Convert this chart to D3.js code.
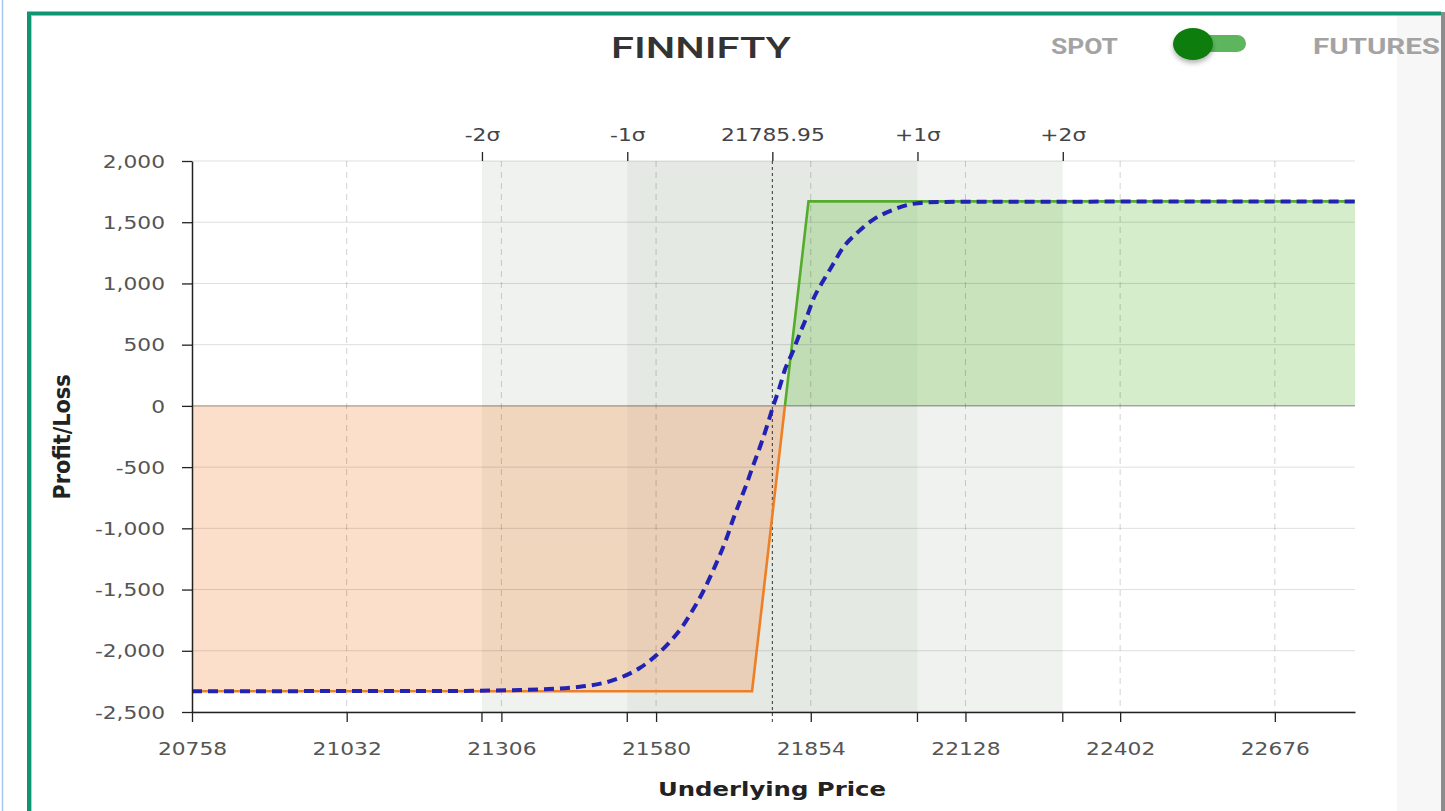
<!DOCTYPE html>
<html><head><meta charset="utf-8">
<script src="https://cdn.jsdelivr.net/npm/d3@7"></script>
<style>body{margin:0;background:#fff;overflow:hidden}svg{display:block}</style>
</head><body>
<script>
// ---------- data ----------
const chartTitle = "FINNIFTY";
const toggleLabels = ["SPOT", "FUTURES"];
const xLabel = "Underlying Price";
const yLabel = "Profit/Loss";
const xTicks = [20758, 21032, 21306, 21580, 21854, 22128, 22402, 22676];
const yTicks = [-2500, -2000, -1500, -1000, -500, 0, 500, 1000, 1500, 2000];
const xDomain = [20758, 22818];
const yDomain = [-2500, 2000];
const spotPrice = 21785.95;
const sigmaLabels = ["-2σ", "-1σ", "21785.95", "+1σ", "+2σ"];
const sigmaPrices = [21271.6, 21529, 21785.95, 22043, 22300.4];
const expiryPrices = [20758, 21750, 21850, 22818];
const expiryPnl = [-2330, -2330, 1670, 1670];
const t0Prices = [20758, 21215, 21340, 21445, 21504, 21551, 21581, 21604, 21626, 21645, 21663, 21679, 21693, 21705, 21716, 21728, 21741, 21751, 21764, 21776, 21787, 21799, 21808, 21822, 21835, 21847, 21858, 21875, 21893, 21911, 21936, 21964, 22000, 22035, 22083, 22818];
const t0Pnl = [-2330, -2328, -2320, -2294, -2240, -2141, -2035, -1929, -1806, -1667, -1520, -1365, -1218, -1079, -932, -786, -630, -499, -336, -172, -8, 155, 293, 440, 596, 727, 866, 1013, 1152, 1291, 1413, 1519, 1601, 1650, 1666, 1670];

// ---------- setup ----------
const W = 1445, H = 811, SX = 1.28;
const FONT = "'DejaVu Sans', Verdana, sans-serif";
const svg = d3.select("body").append("svg").attr("width", W).attr("height", H);
const defs = svg.append("defs");

const L = 192, R = 1355, T = 161, B = 712;
const x = d3.scaleLinear().domain(xDomain).range([L, R]);
const y = d3.scaleLinear().domain(yDomain).range([B, T]);

// ---------- page frame ----------
svg.append("rect").attr("width", W).attr("height", H).attr("fill", "#fff");
svg.append("line").attr("x1", 2.5).attr("x2", 2.5).attr("y1", 0).attr("y2", H)
  .attr("stroke", "#a6c6ee").attr("stroke-width", 1.5);
svg.append("rect").attr("x", 1397).attr("y", 15).attr("width", 44).attr("height", H - 15).attr("fill", "#f7f7f7");
svg.append("rect").attr("x", 1441).attr("y", 12).attr("width", 4).attr("height", H - 12).attr("fill", "#8c8c8c");
svg.append("path").attr("d", `M29,${H} V13.5 H1441`).attr("fill", "none")
  .attr("stroke", "#0c9772").attr("stroke-width", 4);
svg.append("line").attr("x1", 31.5).attr("x2", 31.5).attr("y1", 16).attr("y2", H)
  .attr("stroke", "#c8c8c8").attr("stroke-width", 1);

// ---------- header ----------
svg.append("text").attr("x", 701).attr("y", 58).attr("text-anchor", "middle")
  .attr("font-family", "Roboto, 'Open Sans', sans-serif").attr("font-weight", 500)
  .attr("font-size", 29).attr("fill", "#333")
  .attr("textLength", 180).attr("lengthAdjust", "spacingAndGlyphs").text(chartTitle);

svg.append("text").attr("x", 1051).attr("y", 54)
  .attr("font-family", "Roboto, sans-serif").attr("font-weight", 700)
  .attr("font-size", 22).attr("fill", "#a3a3a3")
  .attr("textLength", 67).attr("lengthAdjust", "spacingAndGlyphs").text(toggleLabels[0]);
svg.append("text").attr("x", 1313).attr("y", 54)
  .attr("font-family", "Roboto, sans-serif").attr("font-weight", 700)
  .attr("font-size", 22).attr("fill", "#a3a3a3")
  .attr("textLength", 127).attr("lengthAdjust", "spacingAndGlyphs").text(toggleLabels[1]);

const sh = defs.append("filter").attr("id", "knobShadow").attr("x", "-50%").attr("y", "-50%").attr("width", "200%").attr("height", "220%");
sh.append("feDropShadow").attr("dx", 0).attr("dy", 3).attr("stdDeviation", 2.5).attr("flood-color", "#000").attr("flood-opacity", 0.3);
svg.append("rect").attr("x", 1180).attr("y", 35).attr("width", 66).attr("height", 17)
  .attr("rx", 9).attr("ry", 8.5).attr("fill", "#5db65d");
svg.append("ellipse").attr("cx", 1193).attr("cy", 44).attr("rx", 20).attr("ry", 16)
  .attr("fill", "#0b7d10").attr("filter", "url(#knobShadow)");

// ---------- sigma bands ----------
const g = svg.append("g");
g.append("rect").attr("x", x(sigmaPrices[0])).attr("y", T)
  .attr("width", x(sigmaPrices[4]) - x(sigmaPrices[0])).attr("height", B - T).attr("fill", "#eff2ee");
g.append("rect").attr("x", x(sigmaPrices[1])).attr("y", T)
  .attr("width", x(sigmaPrices[3]) - x(sigmaPrices[1])).attr("height", B - T).attr("fill", "#e4e9e4");

// ---------- clips ----------
defs.append("clipPath").attr("id", "clipPos").append("rect")
  .attr("x", L).attr("y", T - 5).attr("width", R - L).attr("height", y(0) - T + 5);
defs.append("clipPath").attr("id", "clipNeg").append("rect")
  .attr("x", L).attr("y", y(0)).attr("width", R - L).attr("height", B - y(0) + 5);

const expiry = expiryPrices.map((p, i) => [p, expiryPnl[i]]);
const t0 = t0Prices.map((p, i) => [p, t0Pnl[i]]);

const area = d3.area().x(d => x(d[0])).y0(y(0)).y1(d => y(d[1]));
const line = d3.line().x(d => x(d[0])).y(d => y(d[1]));

g.append("path").datum(expiry).attr("d", area).attr("clip-path", "url(#clipPos)")
  .attr("fill", "rgb(100,190,60)").attr("fill-opacity", 0.27);
g.append("path").datum(expiry).attr("d", area).attr("clip-path", "url(#clipNeg)")
  .attr("fill", "rgb(245,150,80)").attr("fill-opacity", 0.3);

// ---------- grid ----------
g.selectAll(".hg").data(yTicks.filter(d => d !== 0)).join("line")
  .attr("x1", L).attr("x2", R).attr("y1", d => y(d)).attr("y2", d => y(d))
  .attr("stroke", "#000").attr("stroke-opacity", 0.13).attr("stroke-width", 1);
g.selectAll(".vg").data(xTicks.slice(1)).join("line")
  .attr("x1", d => x(d)).attr("x2", d => x(d)).attr("y1", T).attr("y2", B)
  .attr("stroke", "#000").attr("stroke-opacity", 0.18).attr("stroke-dasharray", "6,5");
g.append("line").attr("x1", L).attr("x2", R).attr("y1", y(0)).attr("y2", y(0))
  .attr("stroke", "#000").attr("stroke-opacity", 0.45);

// spot line
g.append("line").attr("x1", x(spotPrice)).attr("x2", x(spotPrice)).attr("y1", T).attr("y2", B + 10)
  .attr("stroke", "#333").attr("stroke-dasharray", "3,3").attr("stroke-width", 1);

// ---------- payoff lines ----------
g.append("path").datum(expiry).attr("d", line).attr("clip-path", "url(#clipPos)")
  .attr("fill", "none").attr("stroke", "#55ab2c").attr("stroke-width", 2.6);
g.append("path").datum(expiry).attr("d", line).attr("clip-path", "url(#clipNeg)")
  .attr("fill", "none").attr("stroke", "#ef7f24").attr("stroke-width", 2.6);

g.append("path").datum(t0).attr("d", line.curve(d3.curveMonotoneX))
  .attr("fill", "none").attr("stroke", "#2222b4").attr("stroke-width", 4)
  .attr("stroke-dasharray", "10,6");

// ---------- axes ----------
const fmt = d => d3.format(",")(d).replace("\u2212", "-");
function styleAxis(sel) {
  sel.attr("font-family", FONT).attr("font-size", 17);
  sel.selectAll("path.domain").attr("stroke", "#222").attr("stroke-width", 1.5);
  sel.selectAll(".tick line").attr("stroke", "#222").attr("stroke-width", 1.3);
  sel.selectAll(".tick text").attr("fill", "#555");
}
const yAx = svg.append("g").attr("transform", `translate(${L},0)`)
  .call(d3.axisLeft(y).tickValues(yTicks).tickFormat(fmt).tickSize(10).tickSizeOuter(0));
styleAxis(yAx);
yAx.selectAll(".tick text").attr("x", -27 / SX).attr("transform", `scale(${SX},1)`).attr("dy", "0.36em");

const xAx = svg.append("g").attr("transform", `translate(0,${B})`)
  .call(d3.axisBottom(x).tickValues(xTicks).tickFormat(d => String(d)).tickSize(10).tickSizeOuter(0));
styleAxis(xAx);
xAx.selectAll(".tick text").attr("y", 31).attr("x", 0).attr("transform", `scale(${SX},1)`);
xAx.selectAll(".stick").data(sigmaPrices.filter((d, i) => i !== 2)).join("line")
  .attr("x1", d => x(d)).attr("x2", d => x(d)).attr("y1", 0).attr("y2", 10)
  .attr("stroke", "#222").attr("stroke-width", 1.3);

const topAx = svg.append("g").attr("transform", `translate(0,${T})`)
  .call(d3.axisTop(x).tickValues(sigmaPrices).tickFormat((d, i) => sigmaLabels[i]).tickSize(9).tickSizeOuter(0));
styleAxis(topAx);
topAx.select("path.domain").remove();
topAx.selectAll(".tick text").attr("y", -20).attr("transform", `scale(${SX},1)`).attr("fill", "#444");

// axis titles
svg.append("text").attr("transform", `translate(772,796)`)
  .attr("text-anchor", "middle").attr("font-family", FONT).attr("font-weight", 700)
  .attr("font-size", 19).attr("fill", "#222")
  .attr("textLength", 228).attr("lengthAdjust", "spacingAndGlyphs").text(xLabel);
svg.append("text").attr("transform", `translate(70,437) scale(1.25,1) rotate(-90)`)
  .attr("text-anchor", "middle").attr("font-family", FONT).attr("font-weight", 700)
  .attr("font-size", 19).attr("fill", "#222")
  .attr("textLength", 125).attr("lengthAdjust", "spacingAndGlyphs").text(yLabel);
</script>
</body></html>
